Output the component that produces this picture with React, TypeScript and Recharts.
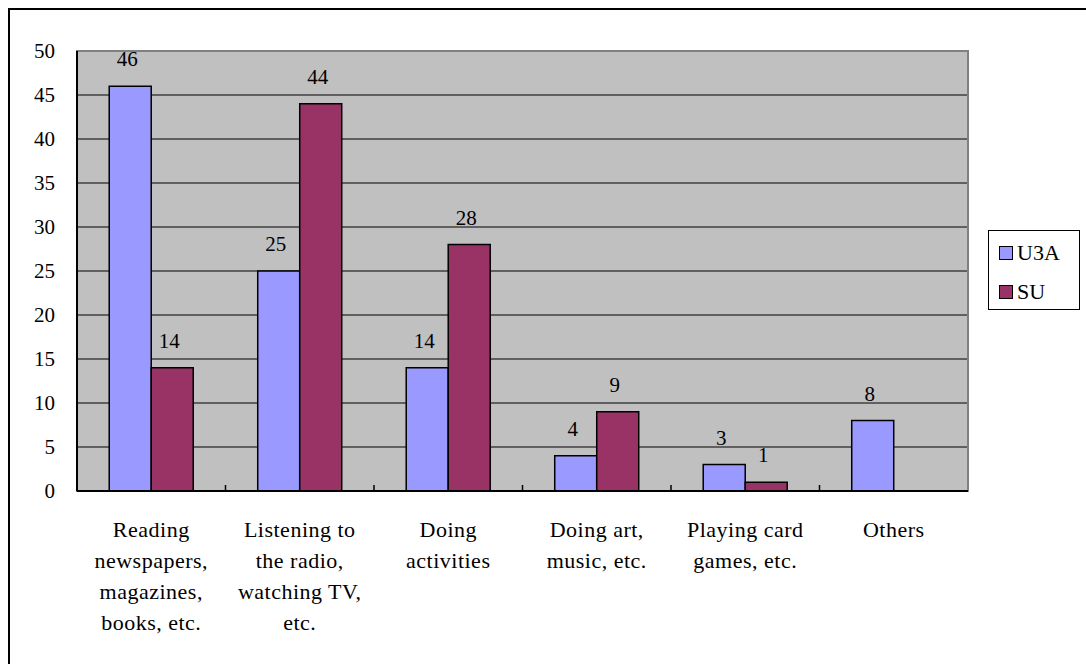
import React from "react";
import {
  BarChart,
  Bar,
  XAxis,
  YAxis,
  CartesianGrid,
  Legend,
  LabelList,
  ReferenceArea,
} from "recharts";

const categories = [
  "Reading\nnewspapers,\nmagazines,\nbooks, etc.",
  "Listening to\nthe radio,\nwatching TV,\netc.",
  "Doing\nactivities",
  "Doing art,\nmusic, etc.",
  "Playing card\ngames, etc.",
  "Others",
];
const u3aValues = [46, 25, 14, 4, 3, 8];
const suValues: (number | null)[] = [14, 44, 28, 9, 1, null];
const yTicks = [0, 5, 10, 15, 20, 25, 30, 35, 40, 45, 50];

const data = categories.map((name, i) => ({
  name,
  U3A: u3aValues[i],
  SU: suValues[i],
}));

const font = '"Liberation Serif", "Times New Roman", serif';
const U3A_COLOR = "#9999FF";
const SU_COLOR = "#993366";

const CHART_W = 1076;
const CHART_H = 654;
const PLOT_LEFT = 67;
const PLOT_RIGHT = 958;
const STEP = (PLOT_RIGHT - PLOT_LEFT) / categories.length;

function CategoryTick(props: any) {
  const { x, y, payload, index } = props;
  const lines = String(payload.value).split("\n");
  return (
    <g>
      {index > 0 && (
        <line x1={x - STEP / 2} x2={x - STEP / 2} y1={y} y2={y - 6} stroke="#000" strokeWidth={1.5} />
      )}
      <text
        x={x}
        y={y + 46}
        textAnchor="middle"
        fontSize={22}
        fill="#000"
        letterSpacing={0.5}
        style={{ fontFamily: font }}
      >
        {lines.map((l, i) => (
          <tspan key={i} x={x} dy={i === 0 ? 0 : 31}>
            {l}
          </tspan>
        ))}
      </text>
    </g>
  );
}

function YTick(props: any) {
  const { x, y, payload } = props;
  return (
    <text x={x} y={y + 7} textAnchor="end" fontSize={21} fill="#000" style={{ fontFamily: font }}>
      {payload.value}
    </text>
  );
}

function ValueLabel(props: any) {
  const { x, y, width, value } = props;
  if (value === null || value === undefined) return null;
  return (
    <text
      x={x + width / 2 - 3}
      y={y - 20}
      textAnchor="middle"
      fontSize={21}
      fill="#000"
      style={{ fontFamily: font }}
    >
      {value}
    </text>
  );
}

function LegendBox() {
  const row = (color: string, label: string, top: number) => (
    <div style={{ position: "absolute", left: 10, top, display: "flex", alignItems: "center" }}>
      <div style={{ width: 12, height: 12, background: color, border: "1.5px solid #000" }} />
      <span style={{ marginLeft: 4, fontSize: 22, fontFamily: font, lineHeight: "24px" }}>{label}</span>
    </div>
  );
  return (
    <div style={legendBox}>
      {row(U3A_COLOR, "U3A", 10)}
      {row(SU_COLOR, "SU", 49)}
    </div>
  );
}

export default function App() {
  return (
    <div style={outer}>
      <div style={frame}>
        <BarChart
          width={CHART_W}
          height={CHART_H}
          data={data}
          margin={{ top: 41, right: CHART_W - PLOT_RIGHT, left: 0, bottom: 73 }}
          barCategoryGap="21.7%"
          barGap={0}
        >
          <CartesianGrid vertical={false} stroke="#000" strokeWidth={1} fill="#C0C0C0" fillOpacity={1} />
          <ReferenceArea y1={0} y2={50} fill="none" stroke="#808080" strokeWidth={2} ifOverflow="visible" />
          <XAxis
            dataKey="name"
            interval={0}
            height={100}
            tickLine={false}
            tickSize={0}
            tickMargin={0}
            axisLine={{ stroke: "#000", strokeWidth: 2 }}
            tick={(p: any) => <CategoryTick {...p} />}
          />
          <YAxis
            width={PLOT_LEFT}
            domain={[0, 50]}
            ticks={yTicks}
            interval={0}
            tickLine={false}
            tickSize={0}
            tickMargin={22}
            axisLine={{ stroke: "#000", strokeWidth: 2 }}
            tick={(p: any) => <YTick {...p} />}
          />
          <Legend
            content={() => <LegendBox />}
            wrapperStyle={{
              position: "absolute",
              left: 978,
              top: 220,
              width: 0,
              height: 0,
              overflow: "visible",
            }}
          />
          <Bar dataKey="U3A" fill={U3A_COLOR} stroke="#000" strokeWidth={1.5} isAnimationActive={false}>
            <LabelList dataKey="U3A" content={(p: any) => <ValueLabel {...p} />} />
          </Bar>
          <Bar dataKey="SU" fill={SU_COLOR} stroke="#000" strokeWidth={1.5} isAnimationActive={false}>
            <LabelList dataKey="SU" content={(p: any) => <ValueLabel {...p} />} />
          </Bar>
        </BarChart>
      </div>
    </div>
  );
}

const outer: React.CSSProperties = {
  position: "fixed",
  left: 8,
  top: 8,
  width: 1078,
  height: 656,
  overflow: "hidden",
  fontFamily: font,
};

const frame: React.CSSProperties = {
  position: "relative",
  width: 1200,
  height: 800,
  border: "2px solid #000",
  boxSizing: "border-box",
  background: "#fff",
};

const legendBox: React.CSSProperties = {
  position: "relative",
  width: 92,
  height: 80,
  border: "1.5px solid #000",
  boxSizing: "border-box",
  background: "#fff",
};
